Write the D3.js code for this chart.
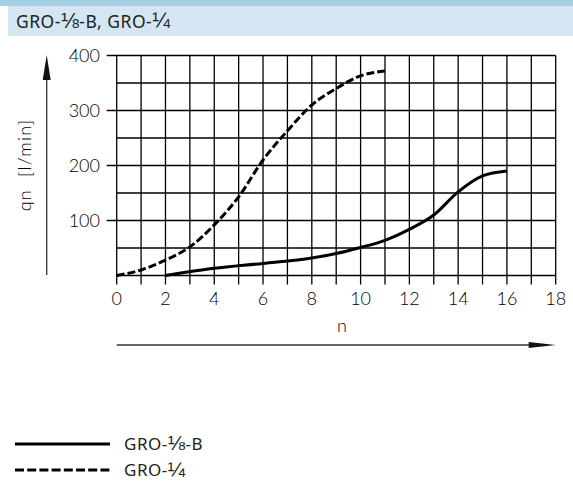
<!DOCTYPE html>
<html><head><meta charset="utf-8">
<script src="https://cdn.jsdelivr.net/npm/d3@7/dist/d3.min.js"></script>
<style>body{margin:0;background:#fff}svg{display:block}text{white-space:pre}</style>
</head><body>
<script>
const title = "GRO-⅛-B, GRO-¼";
const seriesNames = ["GRO-⅛-B", "GRO-¼"];
const xTicks = [0,2,4,6,8,10,12,14,16,18];
const yTicks = [100,200,300,400];
const seriesB = [[2,0],[4,13],[6,22],[8,32],[9,40],[10,51],[11,64],[12,84],[13,110],[14,152],[15,181],[16,190]];
const seriesQ = [[0,0],[1,10],[2,28],[3,52],[4,92],[5,143],[6,210],[7,263],[8,310],[9,340],[10,363],[11,372]];
const xLabel = "n";
const yLabel = "qn  [l/min]";

const W = 573, H = 483;
const svg = d3.select("body").append("svg").attr("width", W).attr("height", H);

const sansF = "Noto Sans, Open Sans, sans-serif";
function richText(sel, str, fs) {
  const runs = str.match(/[⅛¼]+|[^⅛¼]+/g);
  runs.forEach(r => {
    const t = sel.append("tspan").text(r);
    if (/[⅛¼]/.test(r)) t.attr("font-family", "Liberation Sans, Arial, sans-serif").attr("font-size", fs*1.22);
  });
  return sel;
}
// header
svg.append("rect").attr("x",0).attr("y",0).attr("width",W).attr("height",6).attr("fill","#a6d0e4");
svg.append("rect").attr("x",8).attr("y",6).attr("width",W-8).attr("height",30).attr("fill","#d3e6f2");
richText(svg.append("text").attr("x",16).attr("y",27.5).attr("font-family",sansF)
  .attr("font-size",17.5).attr("letter-spacing",0.5).attr("fill","#222"), title, 17.5);

const x = d3.scaleLinear().domain([0,18]).range([116.7,555.7]);
const y = d3.scaleLinear().domain([0,400]).range([275.5,55.5]);

const grid = svg.append("g").attr("stroke","#000").attr("stroke-width",1.3);
d3.range(0,19).forEach(v => {
  grid.append("line").attr("x1",x(v)).attr("x2",x(v)).attr("y1",y(400)).attr("y2",y(0)+9);
});
d3.range(0,401,50).forEach(v => {
  const major = v % 100 === 0 && v>0;
  grid.append("line").attr("x1",major ? x(0)-10 : x(0)).attr("x2",x(18)).attr("y1",y(v)).attr("y2",y(v));
});

const fontT = "Lato, DejaVu Sans, sans-serif";
const labs = svg.append("g").attr("font-family",fontT).attr("font-weight",300).attr("font-size",18).attr("fill","#000");
yTicks.forEach(v => labs.append("text").attr("x",100).attr("y",y(v)+6).attr("text-anchor","end").text(v));
xTicks.forEach(v => labs.append("text").attr("x",x(v)).attr("y",305).attr("text-anchor","middle").text(v));
labs.append("text").attr("x",342).attr("y",332).attr("text-anchor","middle").text(xLabel);
labs.append("text").attr("transform","translate(31,165) rotate(-90)").attr("text-anchor","middle").attr("font-size",18).attr("letter-spacing",1.2).text(yLabel);

// arrows
svg.append("line").attr("x1",x(0)).attr("x2",x(18)-24).attr("y1",345).attr("y2",345).attr("stroke","#333").attr("stroke-width",1.3);
svg.append("path").attr("d",`M${x(18)},345 L${x(18)-27},342 L${x(18)-27},348 Z`).attr("fill","#111");
svg.append("line").attr("x1",46.7).attr("x2",46.7).attr("y1",275).attr("y2",78).attr("stroke","#333").attr("stroke-width",1.3);
svg.append("path").attr("d",`M46.7,55 L42.7,80 L50.7,80 Z`).attr("fill","#111");

const line = d3.line().x(d=>x(d[0])).y(d=>y(d[1])).curve(d3.curveMonotoneX);
svg.append("path").datum(seriesB).attr("d",line).attr("fill","none").attr("stroke","#000").attr("stroke-width",3);
svg.append("path").datum(seriesQ).attr("d",line).attr("fill","none").attr("stroke","#000").attr("stroke-width",3).attr("stroke-dasharray","8,3");

// legend
const lg = svg.append("g");
lg.append("line").attr("x1",15).attr("x2",110).attr("y1",444).attr("y2",444).attr("stroke","#000").attr("stroke-width",3);
lg.append("line").attr("x1",15).attr("x2",110).attr("y1",470).attr("y2",470).attr("stroke","#000").attr("stroke-width",3).attr("stroke-dasharray","9,3.2");
richText(lg.append("text").attr("x",124).attr("y",450).attr("font-family",sansF).attr("font-size",17).attr("letter-spacing",0.5).attr("fill","#222"), seriesNames[0], 17);
richText(lg.append("text").attr("x",124).attr("y",476).attr("font-family",sansF).attr("font-size",17).attr("letter-spacing",0.5).attr("fill","#222"), seriesNames[1], 17);
</script>
</body></html>
